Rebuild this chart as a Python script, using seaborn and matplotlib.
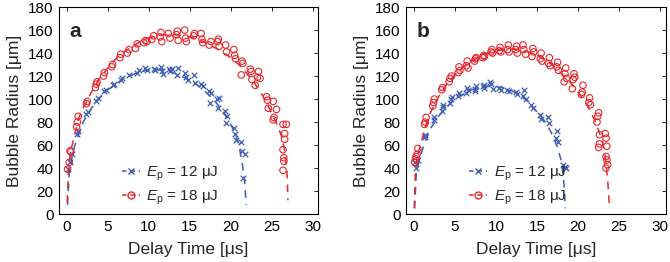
import matplotlib
matplotlib.use('Agg')
import matplotlib.pyplot as plt
import seaborn as sns
from matplotlib.lines import Line2D

# ---- panel a : measured points (delay time [us], radius [um])
a12_t = [0.2, 0.4, 0.6, 1.2, 1.4, 2.4, 2.6, 3.6, 3.8, 4.6, 4.8, 5.6, 5.8, 6.6, 6.8, 7.6, 8.6, 8.8,
         9.6, 9.8, 10.6, 10.8, 11.5, 11.6, 11.8, 12.5, 12.6, 12.8, 13.4, 13.6, 14.4, 14.6, 14.8,
         15.5, 15.6, 16.4, 16.6, 17.4, 17.5, 17.6, 18.4, 18.6, 18.5, 19.3, 19.4, 19.6, 20.4, 20.5,
         20.6, 21.3, 21.4, 21.7, 21.5]
a12_r = [39, 45, 52, 70, 72, 87, 89, 98, 101, 107, 108, 112, 113, 117, 118, 121, 123, 125,
         127, 125, 126, 125, 128, 124, 122, 126, 124, 126, 121, 127, 123, 119, 117,
         121, 114, 113, 111, 107, 97, 105, 100, 101, 92, 90, 79, 85, 75, 70,
         64, 63, 55, 52, 31]
a18_t = [0.1, 0.3, 0.4, 0.5, 1.2, 1.3, 1.4, 2.4, 2.5, 3.5, 3.6, 3.7, 4.5, 4.6, 5.5, 5.6, 6.5, 6.6,
         7.4, 7.6, 8.4, 8.6, 9.4, 9.6, 9.8, 10.4, 10.6, 11.4, 11.5, 11.6, 12.4, 12.6, 13.4, 13.5,
         13.6, 14.4, 14.5, 14.6, 15.5, 15.6, 16.4, 16.5, 16.6, 17.4, 17.6, 18.4, 18.5, 18.6, 19.4,
         19.5, 20.4, 20.5, 20.6, 21.4, 21.5, 21.3, 22.4, 22.5, 22.6, 23.4, 23.3, 23.0, 23.6, 24.4,
         24.5, 24.6, 25.2, 25.6, 25.3, 25.2, 26.8, 26.4, 26.6, 26.6, 26.4, 26.5, 26.4, 26.5]
a18_r = [39, 45, 55, 54, 76, 80, 85, 96, 98, 110, 113, 115, 120, 123, 128, 130, 136, 139,
         140, 143, 144, 148, 149, 151, 150, 152, 155, 154, 158, 150, 157, 153, 156, 159,
         151, 160, 153, 150, 155, 157, 157, 152, 149, 147, 150, 150, 152, 146, 147,
         141, 143, 138, 135, 133, 131, 121, 126, 124, 117, 124, 119, 112, 118, 102,
         99, 92, 98, 91, 84, 82, 78, 78, 70, 65, 56, 49, 38, 46]
# fitted curves
a12_fit_t = [0.1, 0.3, 0.6, 1, 1.5, 2, 3, 4, 5, 6, 7, 8, 9, 10, 11, 12, 13, 14, 15, 16, 17, 18,
             19, 20, 20.5, 21, 21.4, 21.7, 21.9]
a12_fit_r = [8, 35, 48, 60, 70, 80, 92, 101, 108, 113, 118, 121, 124, 125, 125.5, 125, 123, 120,
             116, 112, 106, 99, 90, 78, 71, 61, 45, 30, 8]
a18_fit_t = [0.05, 0.2, 0.5, 1, 1.5, 2, 3, 4, 5, 6, 7, 8, 9, 10, 11, 12, 13, 14, 15, 16, 17, 18,
             19, 20, 21, 22, 23, 24, 25, 25.8, 26.2, 26.6, 26.9, 27.0]
a18_fit_r = [10, 38, 55, 70, 84, 92, 106, 118, 127, 135, 141, 146, 150, 153, 155, 156, 156, 155.5,
             154, 152, 149, 145, 141, 136, 130, 122, 113, 102, 88, 76, 68, 55, 35, 12]

# ---- panel b
b12_t = [0.2, 0.3, 0.5, 1.3, 1.4, 2.4, 2.5, 3.4, 3.5, 3.6, 4.4, 4.5, 4.6, 5.4, 5.5, 6.4, 6.6, 6.5,
         7.4, 7.5, 7.6, 8.4, 8.5, 8.6, 9.3, 9.4, 9.6, 10.4, 10.6, 11.4, 11.6, 12.4, 12.6, 13.3,
         13.4, 13.6, 14.3, 14.5, 15.4, 15.5, 16.3, 16.5, 17.4, 17.3, 17.5, 18.2, 18.4, 18.5]
b12_r = [45, 40, 47, 67, 69, 82, 84, 90, 93, 95, 97, 100, 102, 103, 105, 105, 108, 110,
         107, 109, 111, 111, 112, 110, 115, 113, 109, 110, 108, 108, 107, 106, 104, 103,
         108, 100, 95, 92, 86, 83, 84, 79, 72, 66, 63, 43, 41, 40]
b18_t = [0.1, 0.2, 0.3, 0.4, 0.5, 1.3, 1.4, 1.5, 2.3, 2.4, 2.5, 3.4, 3.5, 4.3, 4.4, 4.6, 5.4, 5.5,
         5.6, 6.4, 6.5, 6.6, 7.4, 7.5, 7.6, 8.4, 8.5, 8.6, 9.4, 9.5, 9.6, 10.4, 10.5, 10.6, 11.4,
         11.5, 11.6, 12.4, 12.5, 12.6, 13.3, 13.4, 13.6, 14.4, 14.5, 14.6, 15.4, 15.5, 15.6, 16.4,
         16.5, 16.6, 17.4, 17.5, 17.6, 18.4, 18.5, 18.3, 18.6, 19.4, 19.5, 19.3, 19.6, 20.4, 20.5,
         20.6, 21.3, 21.4, 21.5, 22.4, 22.5, 22.3, 22.6, 22.5, 22.6, 23.3, 23.4, 23.5, 23.4, 23.5,
         23.6, 23.4]
b18_r = [45, 48, 50, 52, 57, 78, 80, 84, 94, 97, 100, 108, 110, 115, 118, 120, 123, 128,
         125, 129, 133, 127, 133, 135, 136, 136, 138, 137, 141, 143, 140, 142, 145, 141, 143,
         147, 141, 143, 146, 140, 147, 143, 139, 137, 144, 141, 135, 140, 133, 131,
         136, 129, 128, 132, 125, 122, 127, 115, 118, 117, 122, 109, 119, 104, 106,
         112, 97, 101, 95, 85, 88, 80, 69, 58, 61, 70, 66, 59, 50, 47,
         43, 40]
b12_fit_t = [0.1, 0.3, 0.6, 1, 1.5, 2, 3, 4, 5, 6, 7, 8, 9, 10, 11, 12, 13, 14, 15, 16, 16.5,
             17, 17.5, 18, 18.3, 18.45]
b12_fit_r = [5, 35, 45, 55, 65, 74, 85, 93, 100, 104, 108, 110, 111.5, 111, 109.5, 107, 103, 97,
             89, 80, 74, 67, 58, 45, 25, 5]
b18_fit_t = [0.05, 0.2, 0.5, 1, 1.5, 2, 3, 4, 5, 6, 7, 8, 9, 10, 11, 12, 13, 14, 15, 16, 17, 18,
             19, 20, 21, 22, 22.5, 23, 23.3, 23.6, 23.8]
b18_fit_r = [5, 38, 52, 65, 78, 88, 102, 113, 121, 128, 133, 137, 140, 142, 143, 143.5, 143, 141,
             138, 134, 129, 122, 115, 106, 96, 82, 73, 62, 50, 30, 8]

labels = [r'$E_\mathrm{p}$ = 12 μJ', r'$E_\mathrm{p}$ = 18 μJ']
blue = '#3d5cb4'
red = '#e8262c'

sns.set_style('white')
plt.rcParams['font.family'] = ['Liberation Sans', 'DejaVu Sans']
plt.rcParams['mathtext.fontset'] = 'custom'
plt.rcParams['mathtext.rm'] = 'Liberation Sans'
plt.rcParams['mathtext.it'] = 'Liberation Sans:italic'

fig = plt.figure(figsize=(6.7, 2.62), dpi=100)
ax_a = fig.add_axes([0.088, 0.183, 0.387, 0.79])
ax_b = fig.add_axes([0.606, 0.183, 0.388, 0.79])

panels = [
    (ax_a, 'a', a12_t, a12_r, a18_t, a18_r, a12_fit_t, a12_fit_r, a18_fit_t, a18_fit_r),
    (ax_b, 'b', b12_t, b12_r, b18_t, b18_r, b12_fit_t, b12_fit_r, b18_fit_t, b18_fit_r),
]

for ax, tag, t12, r12, t18, r18, ft12, fr12, ft18, fr18 in panels:
    sns.lineplot(x=ft12, y=fr12, ax=ax, color=blue, linestyle=(0, (5, 4)), lw=1.1,
                 sort=False, estimator=None)
    sns.lineplot(x=ft18, y=fr18, ax=ax, color=red, linestyle=(0, (5, 4)), lw=1.1,
                 sort=False, estimator=None)
    sns.scatterplot(x=t12, y=r12, ax=ax, marker='x', color=blue, s=16, linewidth=0.9)
    sns.scatterplot(x=t18, y=r18, ax=ax, marker='o', facecolor='none', edgecolor=red,
                    s=22, linewidth=0.8)

    ax.set_xlim(-0.95, 30.7)
    ax.set_ylim(0, 180)
    ax.set_xticks(range(0, 31, 5))
    ax.set_yticks(range(0, 181, 20))
    ax.tick_params(direction='in', length=3, width=0.6, labelsize=11, top=True, right=True,
                   pad=4, colors='black')
    for s in ax.spines.values():
        s.set_linewidth(0.8)
        s.set_color('black')
    ax.set_xlabel('Delay Time [μs]', fontsize=12.5, labelpad=6)
    ax.set_ylabel('Bubble Radius [μm]', fontsize=12.5, labelpad=4)
    ax.text(0.04, 0.93, tag, transform=ax.transAxes, fontsize=15, fontweight='bold',
            va='top', ha='left')

    handles = [
        Line2D([], [], color=blue, marker='x', markersize=4, linestyle=(0, (3, 2.5)), lw=1.1),
        Line2D([], [], color=red, marker='o', mfc='none', markersize=5, linestyle=(0, (3, 2.5)), lw=1.1),
    ]
    ax.legend(handles, labels, loc='lower left', bbox_to_anchor=(0.19, -0.03), frameon=False,
              fontsize=11, numpoints=1, handlelength=1.2, handletextpad=0.4, labelspacing=0.35)

fig.savefig('out.png', dpi=100)
